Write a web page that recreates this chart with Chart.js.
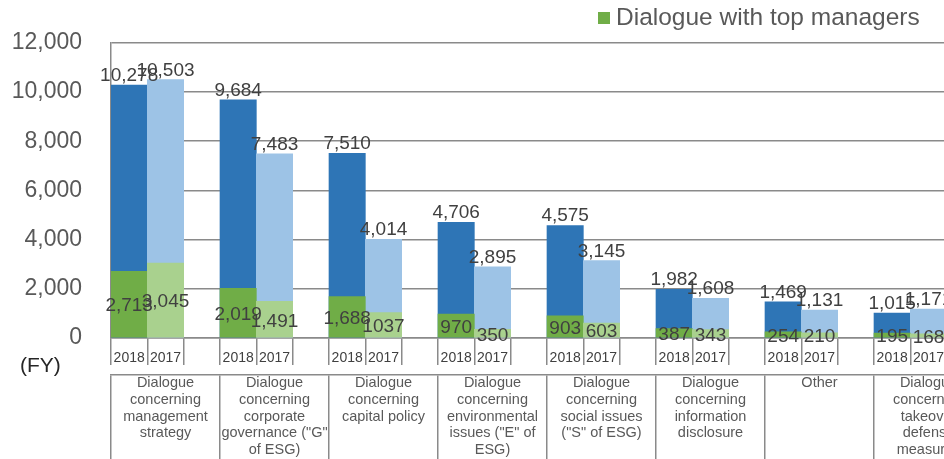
<!DOCTYPE html>
<html lang="en">
<head>
<meta charset="UTF-8">
<title>Dialogue by theme</title>
<style>
  html, body { margin: 0; padding: 0; background: #fff; overflow: hidden; }
  .wrap { width: 944px; height: 459px; overflow: hidden; }
  canvas { display: block; }
</style>
</head>
<body>
<div class="wrap">
  <canvas id="dialogueChart" width="990" height="459"></canvas>
</div>
<script src="https://cdn.jsdelivr.net/npm/chart.js"></script>
<script>
  // data
  const categories = [
    ['Dialogue', 'concerning', 'management', 'strategy'],
    ['Dialogue', 'concerning', 'corporate', 'governance ("G"', 'of ESG)'],
    ['Dialogue', 'concerning', 'capital policy'],
    ['Dialogue', 'concerning', 'environmental', 'issues ("E" of', 'ESG)'],
    ['Dialogue', 'concerning', 'social issues', '("S" of ESG)'],
    ['Dialogue', 'concerning', 'information', 'disclosure'],
    ['Other'],
    ['Dialogue', 'concerning', 'takeover', 'defense', 'measures']
  ];
  const years = ['2018', '2017'];
  const total2018 = [10278, 9684, 7510, 4706, 4575, 1982, 1469, 1015];
  const total2017 = [10503, 7483, 4014, 2895, 3145, 1608, 1131, 1171];
  const top2018 = [2713, 2019, 1688, 970, 903, 387, 254, 195];
  const top2017 = [3045, 1491, 1037, 350, 603, 343, 210, 168];
  const yTicks = [0, 2000, 4000, 6000, 8000, 10000, 12000];

  const FONT = "'Liberation Sans', Arial, sans-serif";
  Chart.defaults.font.family = FONT;

  // three slots per theme: 2018, 2017, empty gap
  const slotLabels = [];
  const totalSlots = [];
  const topSlots = [];
  categories.forEach((c, i) => {
    slotLabels.push(years[0], years[1], '');
    totalSlots.push(total2018[i], total2017[i], null);
    topSlots.push(top2018[i], top2017[i], null);
  });

  const slotColor = (dark, light) => ctx => [dark, light, 'rgba(0,0,0,0)'][ctx.dataIndex % 3];
  const fmt = v => v.toLocaleString('en-US');
  // the source prints 1037 (2017, capital policy) without a separator
  const plainValues = [1037];

  const valueLabels = {
    id: 'valueLabels',
    afterDatasetsDraw(chart) {
      const ctx = chart.ctx;
      ctx.save();
      ctx.font = '19px ' + FONT;
      ctx.fillStyle = '#404040';
      ctx.textAlign = 'center';
      chart.data.datasets.forEach((ds, di) => {
        const meta = chart.getDatasetMeta(di);
        meta.data.forEach((bar, i) => {
          const v = ds.data[i];
          if (v == null) return;
          const txt = plainValues.includes(v) ? String(v) : fmt(v);
          if (di === 0) {
            ctx.textBaseline = 'middle';
            ctx.fillText(txt, bar.x, (bar.y + bar.base) / 2 + 2);
          } else {
            ctx.textBaseline = 'alphabetic';
            ctx.fillText(txt, bar.x, bar.y - 4);
          }
        });
      });
      ctx.restore();
    }
  };

  const extraText = {
    id: 'extraText',
    afterDraw(chart) {
      const ctx = chart.ctx;
      ctx.save();
      // legend: only the top managers series is keyed
      ctx.fillStyle = '#70AD47';
      ctx.fillRect(598, 12, 12, 12);
      ctx.fillStyle = '#595959';
      ctx.font = '24.5px ' + FONT;
      ctx.textBaseline = 'middle';
      ctx.textAlign = 'left';
      ctx.fillText(chart.data.datasets[0].label, 616, 18);
      // fiscal year marker
      ctx.fillStyle = '#262626';
      ctx.font = '21px ' + FONT;
      ctx.fillText('(FY)', 20, 366);
      ctx.restore();
    }
  };

  new Chart(document.getElementById('dialogueChart'), {
    type: 'bar',
    data: {
      labels: slotLabels,
      datasets: [
        {
          label: 'Dialogue with top managers',
          data: topSlots,
          backgroundColor: slotColor('#70AD47', '#A9D18E'),
          grouped: false,
          barPercentage: 1,
          categoryPercentage: 1
        },
        {
          label: 'Total',
          data: totalSlots,
          backgroundColor: slotColor('#2E75B6', '#9DC3E6'),
          grouped: false,
          barPercentage: 1,
          categoryPercentage: 1
        }
      ]
    },
    options: {
      responsive: false,
      animation: false,
      devicePixelRatio: 1,
      layout: { padding: { top: 38, right: 7, bottom: 0, left: 0 } },
      plugins: {
        legend: { display: false },
        tooltip: { enabled: false }
      },
      scales: {
        y: {
          min: 0,
          max: 12000,
          afterBuildTicks: s => { s.ticks = yTicks.map(v => ({ value: v })); },
          afterFit: s => { s.width = 111; },
          grid: { color: '#8a8a8a', lineWidth: 1.5, drawTicks: false },
          border: { color: '#8a8a8a', width: 1.5 },
          ticks: {
            padding: 29,
            color: '#595959',
            font: { size: 23 },
            callback: v => fmt(v)
          }
        },
        x: {
          weight: 1,
          offset: true,
          afterFit: s => { s.height = 37; },
          grid: { offset: true, drawOnChartArea: false, tickLength: 27, color: '#8a8a8a', lineWidth: 1.5 },
          border: { color: '#8a8a8a', width: 1.5 },
          ticks: {
            autoSkip: false,
            maxRotation: 0,
            minRotation: 0,
            padding: -15,
            color: '#404040',
            font: { size: 14 }
          }
        },
        x2: {
          type: 'category',
          position: 'bottom',
          weight: 2,
          labels: categories,
          offset: true,
          afterFit: s => { s.height = 84; },
          grid: { offset: true, drawOnChartArea: false, tickLength: 90, color: '#8a8a8a', lineWidth: 1.5 },
          border: { color: '#8a8a8a', width: 1.5 },
          ticks: {
            autoSkip: false,
            maxRotation: 0,
            minRotation: 0,
            padding: -90,
            color: '#595959',
            font: { size: 14.5, lineHeight: 1.15 }
          }
        }
      }
    },
    plugins: [valueLabels, extraText]
  });
</script>
</body>
</html>
